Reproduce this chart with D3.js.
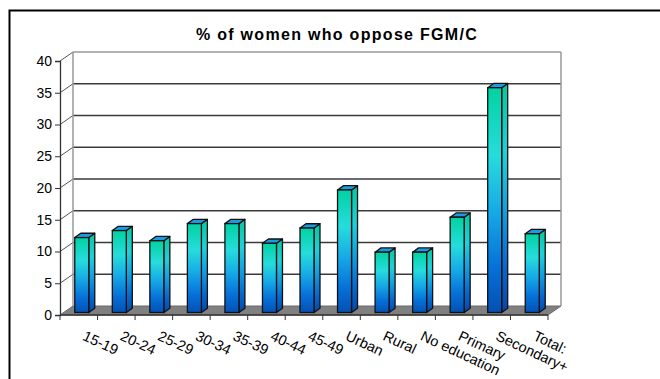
<!DOCTYPE html>
<html>
<head>
<meta charset="utf-8">
<script src="https://cdn.jsdelivr.net/npm/d3@7"></script>
<style>
  html, body { margin: 0; padding: 0; background: #fff; }
  svg { display: block; font-family: Arial, "Liberation Sans", sans-serif; }
</style>
</head>
<body>
<svg id="chart" width="660" height="379"></svg>
<script>
// Share of women who oppose FGM/C, by group
const categories = ["15-19", "20-24", "25-29", "30-34", "35-39", "40-44", "45-49",
                    "Urban", "Rural", "No education", "Primary", "Secondary+", "Total:"];
const values = [11.8, 12.9, 11.3, 14.0, 14.0, 10.9, 13.3, 19.3, 9.5, 9.5, 15.0, 35.4, 12.4];
const yTicks = [0, 5, 10, 15, 20, 25, 30, 35, 40];
const title = "% of women who oppose FGM/C";

const svg = d3.select("#chart");

// plot frame (front plane) and 3D depth offsets
const plotLeft = 60, plotRight = 548, plotBottom = 315, plotTop = 61;
const wallDx = 13, wallDy = -9;        // back wall offset
const barShiftX = 3, barShiftY = -2.5; // bar front face sits a little inside the floor
const barDx = 6, barDy = -4.3;         // bar depth
const barW = 14;

const x = d3.scaleBand().domain(categories).range([plotLeft, plotRight]);
const y = d3.scaleLinear().domain([0, 40]).range([plotBottom, plotTop]);

// outer border
svg.append("rect")
  .attr("x", 9.5).attr("y", 10.5)
  .attr("width", 700).attr("height", 400)
  .attr("fill", "none").attr("stroke", "#000").attr("stroke-width", 2);

// title
svg.append("text")
  .attr("x", 337).attr("y", 40)
  .attr("text-anchor", "middle")
  .attr("font-size", 16).attr("font-weight", "bold")
  .attr("letter-spacing", 1.3)
  .attr("fill", "#000")
  .text(title);

// gradients for bar faces
const defs = svg.append("defs");
const front = defs.append("linearGradient").attr("id", "barFront")
  .attr("x1", 0).attr("y1", 0).attr("x2", 0).attr("y2", 1);
[[0, "#02d2a2"], [0.3, "#26dcdc"], [0.55, "#16aae6"], [0.8, "#0670d8"], [1, "#0450b4"]]
  .forEach(([o, c]) => front.append("stop").attr("offset", o).attr("stop-color", c));
const side = defs.append("linearGradient").attr("id", "barSide")
  .attr("x1", 0).attr("y1", 0).attr("x2", 0).attr("y2", 1);
[[0, "#04c8a0"], [0.3, "#20d0d8"], [0.55, "#12a0e0"], [0.8, "#0668d0"], [1, "#0448aa"]]
  .forEach(([o, c]) => side.append("stop").attr("offset", o).attr("stop-color", c));

// floor
const floor = [[plotLeft, plotBottom], [plotRight, plotBottom],
               [plotRight + wallDx, plotBottom + wallDy], [plotLeft + wallDx, plotBottom + wallDy]];
svg.append("polygon")
  .attr("points", floor.map(p => p.join(",")).join(" "))
  .attr("fill", "#808080").attr("stroke", "#6a6a6a").attr("stroke-width", 1);

// gridlines on back wall and side wall
const grid = svg.append("g");
yTicks.filter(v => v > 0).forEach(v => {
  const gy = y(v);
  grid.append("line")
    .attr("x1", plotLeft + wallDx).attr("x2", plotRight + wallDx)
    .attr("y1", gy + wallDy).attr("y2", gy + wallDy)
    .attr("stroke", v === 40 ? "#999" : "#3a3a3a").attr("stroke-width", 1.3);
  grid.append("line")
    .attr("x1", plotLeft).attr("x2", plotLeft + wallDx)
    .attr("y1", gy).attr("y2", gy + wallDy)
    .attr("stroke", "#555").attr("stroke-width", 1);
});
// wall edges
grid.append("line")
  .attr("x1", plotLeft + wallDx).attr("x2", plotLeft + wallDx)
  .attr("y1", y(40) + wallDy).attr("y2", plotBottom + wallDy)
  .attr("stroke", "#999").attr("stroke-width", 1.5);
grid.append("line")
  .attr("x1", plotRight + wallDx).attr("x2", plotRight + wallDx)
  .attr("y1", y(40) + wallDy).attr("y2", plotBottom + wallDy)
  .attr("stroke", "#999").attr("stroke-width", 1.5);

// bars
const bars = svg.append("g");
categories.forEach((c, i) => {
  const v = values[i];
  const x0 = x(c) + (x.bandwidth() - barW) / 2 + barShiftX;
  const x1 = x0 + barW;
  const yb = y(0) + barShiftY;
  const yt = y(v) + barShiftY;
  // side face
  bars.append("polygon")
    .attr("points", [[x1, yb], [x1 + barDx, yb + barDy], [x1 + barDx, yt + barDy], [x1, yt]].map(p => p.join(",")).join(" "))
    .attr("fill", "url(#barSide)").attr("stroke", "#111").attr("stroke-width", 1.3)
    .attr("stroke-linejoin", "round");
  // top face
  bars.append("polygon")
    .attr("points", [[x0, yt], [x1, yt], [x1 + barDx, yt + barDy], [x0 + barDx, yt + barDy]].map(p => p.join(",")).join(" "))
    .attr("fill", "#1a9ce4").attr("stroke", "#111").attr("stroke-width", 1.3)
    .attr("stroke-linejoin", "round");
  // front face
  bars.append("rect")
    .attr("x", x0).attr("y", yt)
    .attr("width", barW).attr("height", yb - yt)
    .attr("fill", "url(#barFront)").attr("stroke", "#111").attr("stroke-width", 1.3);
});

// y axis
const yAxis = svg.append("g")
  .attr("transform", `translate(${plotLeft},0)`)
  .call(d3.axisLeft(y).tickValues(yTicks).tickSize(5).tickPadding(3).tickFormat(d3.format("d")));
yAxis.select(".domain").attr("stroke", "#333").attr("stroke-width", 1.3);
yAxis.selectAll(".tick line").attr("stroke", "#333");
yAxis.selectAll("text").attr("font-size", 14).attr("fill", "#000")
  .attr("font-family", "Arial, 'Liberation Sans', sans-serif");

// x axis baseline with boundary ticks
const xg = svg.append("g");
xg.append("line")
  .attr("x1", plotLeft).attr("x2", plotRight).attr("y1", plotBottom).attr("y2", plotBottom)
  .attr("stroke", "#333").attr("stroke-width", 1.3);
categories.forEach(c => {
  xg.append("line")
    .attr("x1", x(c)).attr("x2", x(c)).attr("y1", plotBottom).attr("y2", plotBottom + 5)
    .attr("stroke", "#333");
});
xg.append("line")
  .attr("x1", plotRight).attr("x2", plotRight).attr("y1", plotBottom).attr("y2", plotBottom + 5)
  .attr("stroke", "#333");

// rotated category labels
xg.selectAll("text.cat").data(categories).join("text")
  .attr("class", "cat")
  .attr("transform", d => `translate(${x(d) + x.bandwidth() / 2 + 3},339.5) rotate(25)`)
  .attr("font-size", 14.5).attr("fill", "#000")
  .text(d => d);
</script>
</body>
</html>
